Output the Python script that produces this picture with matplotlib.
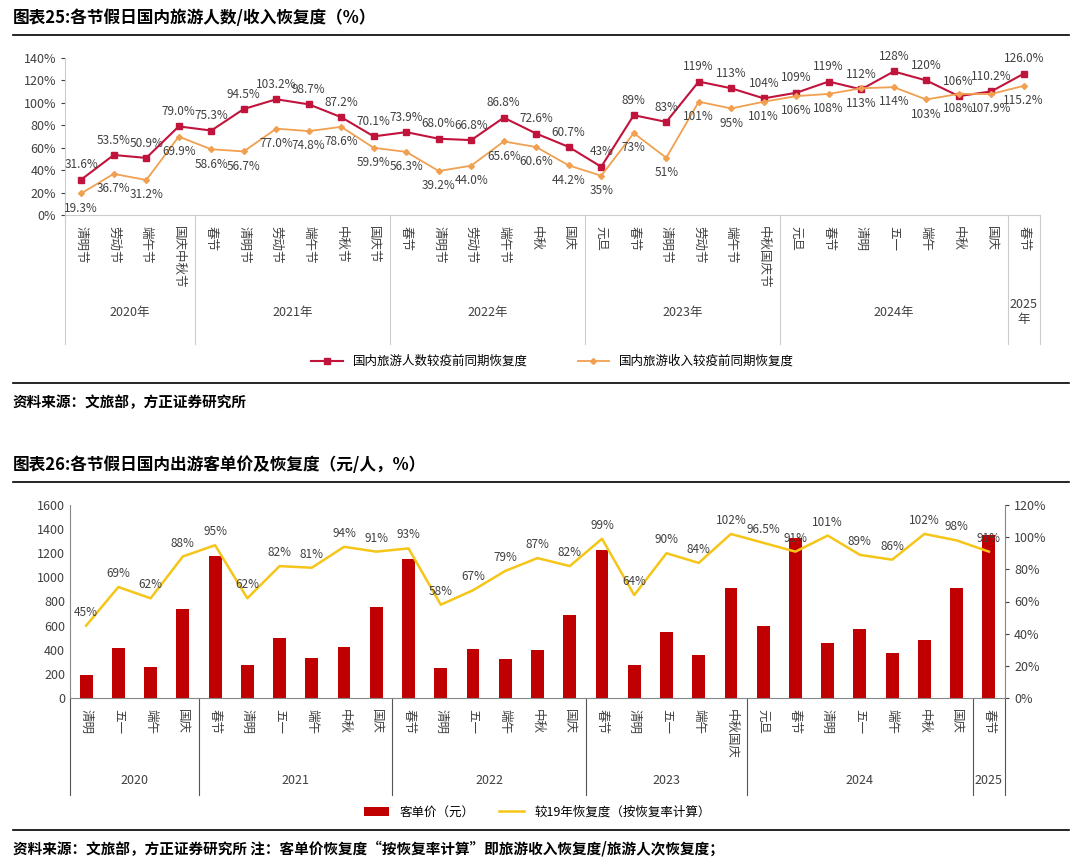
import matplotlib
matplotlib.use("Agg")
import matplotlib.pyplot as plt
import matplotlib.transforms as mtransforms
from matplotlib.ticker import FuncFormatter

plt.rcParams["font.family"] = "Noto Sans CJK SC"

# ---- chart 25 data ----
top_groups = [("2020年", ["清明节", "劳动节", "端午节", "国庆中秋节"]),
              ("2021年", ["春节", "清明节", "劳动节", "端午节", "中秋节", "国庆节"]),
              ("2022年", ["春节", "清明节", "劳动节", "端午节", "中秋", "国庆"]),
              ("2023年", ["元旦", "春节", "清明节", "劳动节", "端午节", "中秋国庆节"]),
              ("2024年", ["元旦", "春节", "清明", "五一", "端午", "中秋", "国庆"]),
              ("2025\n年", ["春节"])]
people = [31.6, 53.5, 50.9, 79.0, 75.3, 94.5, 103.2, 98.7, 87.2, 70.1,
          73.9, 68.0, 66.8, 86.8, 72.6, 60.7, 43, 89, 83, 119, 113, 104,
          109, 119, 112, 128, 120, 106, 110.2, 126.0]
income = [19.3, 36.7, 31.2, 69.9, 58.6, 56.7, 77.0, 74.8, 78.6, 59.9,
          56.3, 39.2, 44.0, 65.6, 60.6, 44.2, 35, 73, 51, 101, 95, 101,
          106, 108, 113, 114, 103, 108, 107.9, 115.2]
people_lbl = ["31.6%", "53.5%", "50.9%", "79.0%", "75.3%", "94.5%", "103.2%", "98.7%", "87.2%", "70.1%",
              "73.9%", "68.0%", "66.8%", "86.8%", "72.6%", "60.7%", "43%", "89%", "83%", "119%", "113%", "104%",
              "109%", "119%", "112%", "128%", "120%", "106%", "110.2%", "126.0%"]
income_lbl = ["19.3%", "36.7%", "31.2%", "69.9%", "58.6%", "56.7%", "77.0%", "74.8%", "78.6%", "59.9%",
              "56.3%", "39.2%", "44.0%", "65.6%", "60.6%", "44.2%", "35%", "73%", "51%", "101%", "95%", "101%",
              "106%", "108%", "113%", "114%", "103%", "108%", "107.9%", "115.2%"]

# ---- chart 26 data ----
bot_groups = [("2020", ["清明", "五一", "端午", "国庆"]),
              ("2021", ["春节", "清明", "五一", "端午", "中秋", "国庆"]),
              ("2022", ["春节", "清明", "五一", "端午", "中秋", "国庆"]),
              ("2023", ["春节", "清明", "五一", "端午", "中秋国庆"]),
              ("2024", ["元旦", "春节", "清明", "五一", "端午", "中秋", "国庆"]),
              ("2025", ["春节"])]
price = [190, 415, 255, 735, 1175, 270, 495, 330, 425, 755,
         1155, 250, 405, 325, 395, 685, 1225, 275, 545, 355, 915,
         600, 1330, 455, 570, 370, 480, 915, 1355]
recovery = [45, 69, 62, 88, 95, 62, 82, 81, 94, 91,
            93, 58, 67, 79, 87, 82, 99, 64, 90, 84, 102,
            96.5, 91, 101, 89, 86, 102, 98, 91]
recovery_lbl = ["45%", "69%", "62%", "88%", "95%", "62%", "82%", "81%", "94%", "91%",
                "93%", "58%", "67%", "79%", "87%", "82%", "99%", "64%", "90%", "84%", "102%",
                "96.5%", "91%", "101%", "89%", "86%", "102%", "98%", "91%"]

RED = "#c00000"
DRED = "#c0143c"
ORANGE = "#f0a050"
YELLOW = "#f5c518"
GRID = "#cccccc"
TXT = "#404040"

fig = plt.figure(figsize=(10.8, 8.64), dpi=100)


def fy(px):
    return 1 - px / 864.0


def group_axis(ax, groups, year_y, vert_lines_to, line_color):
    n = 0
    trans = mtransforms.blended_transform_factory(ax.transData, ax.transAxes)
    bounds = [-0.5]
    for name, cats in groups:
        mid = n + (len(cats) - 1) / 2
        ax.text(mid, year_y, name, transform=trans, ha="center", va="center",
                fontsize=9, color=TXT, clip_on=False)
        n += len(cats)
        bounds.append(n - 0.5)
    for b in bounds:
        ax.plot([b, b], [0, vert_lines_to], transform=trans, color=line_color, lw=0.8, clip_on=False)
    labels = [c for _, cats in groups for c in cats]
    ax.set_xticks(range(len(labels)))
    ax.set_xticklabels(labels, rotation=270, fontsize=9, color=TXT, va="top")
    ax.tick_params(axis="x", length=0, pad=8)
    ax.set_xlim(-0.5, len(labels) - 0.5)


# ================= chart 25 =================
fig.text(0.012, fy(18), "图表25:各节假日国内旅游人数/收入恢复度（%）", fontsize=12,
         fontweight="bold", va="center")
fig.add_artist(plt.Line2D([0.012, 0.99], [fy(35), fy(35)], color="black", lw=1.2))

ax1 = fig.add_axes([65 / 1080, fy(215), (1040 - 65) / 1080, (215 - 58) / 864])
x = range(len(people))
ax1.plot(x, people, color=DRED, marker="s", ms=4, lw=1.5, label="国内旅游人数较疫前同期恢复度")
ax1.plot(x, income, color=ORANGE, marker="D", ms=3, lw=1.3, label="国内旅游收入较疫前同期恢复度")
ax1.set_ylim(0, 140)
ax1.set_yticks(range(0, 141, 20))
ax1.yaxis.set_major_formatter(FuncFormatter(lambda v, p: "%d%%" % v))
ax1.tick_params(axis="y", labelsize=9, colors=TXT, length=3)
for s in ["top", "right"]:
    ax1.spines[s].set_visible(False)
ax1.spines["left"].set_color(GRID)
ax1.spines["bottom"].set_color(GRID)
for i in x:
    ax1.annotate(people_lbl[i], (i, people[i]), xytext=(0, 6), textcoords="offset points",
                 ha="center", va="bottom", fontsize=8.5, color=TXT)
    ax1.annotate(income_lbl[i], (i, income[i]), xytext=(0, -6), textcoords="offset points",
                 ha="center", va="top", fontsize=8.5, color=TXT)
group_axis(ax1, top_groups, -0.62, -0.82, GRID)
ax1.legend(loc="upper center", bbox_to_anchor=(0.5, -0.82), ncol=2, frameon=False,
           fontsize=9, handlelength=2.5, columnspacing=4)

fig.add_artist(plt.Line2D([0.012, 0.99], [fy(383), fy(383)], color="black", lw=1.2))
fig.text(0.012, fy(402), "资料来源：文旅部，方正证券研究所", fontsize=10.5,
         fontstyle="italic", fontweight="bold", va="center")

# ================= chart 26 =================
fig.text(0.012, fy(465), "图表26:各节假日国内出游客单价及恢复度（元/人，%）", fontsize=12,
         fontweight="bold", va="center")
fig.add_artist(plt.Line2D([0.012, 0.99], [fy(482), fy(482)], color="black", lw=1.2))

ax2 = fig.add_axes([70 / 1080, fy(698), (1005 - 70) / 1080, (698 - 505) / 864])
x2 = range(len(price))
ax2.bar(x2, price, width=0.4, color=RED, label="客单价（元）")
ax2.set_ylim(0, 1600)
ax2.set_yticks(range(0, 1601, 200))
ax2.tick_params(axis="y", labelsize=9, colors=TXT, length=0)
for s in ["top", "right"]:
    ax2.spines[s].set_visible(False)
ax2.spines["left"].set_color("#888888")
ax2.spines["bottom"].set_color("#888888")

ax3 = ax2.twinx()
ax3.plot(x2, recovery, color=YELLOW, lw=1.8, label="较19年恢复度（按恢复率计算）")
ax3.set_ylim(0, 120)
ax3.set_yticks(range(0, 121, 20))
ax3.yaxis.set_major_formatter(FuncFormatter(lambda v, p: "%d%%" % v))
ax3.tick_params(axis="y", labelsize=9, colors=TXT, length=3)
for s in ["top", "left", "bottom"]:
    ax3.spines[s].set_visible(False)
ax3.spines["right"].set_color("#888888")
for i in x2:
    ax3.annotate(recovery_lbl[i], (i, recovery[i]), xytext=(0, 5), textcoords="offset points",
                 ha="center", va="bottom", fontsize=8.5, color=TXT)
group_axis(ax2, bot_groups, -0.43, -0.5, "#555555")

h1, l1 = ax2.get_legend_handles_labels()
h2, l2 = ax3.get_legend_handles_labels()
ax2.legend(h1 + h2, l1 + l2, loc="upper center", bbox_to_anchor=(0.5, -0.5), ncol=2,
           frameon=False, fontsize=9, handlelength=2, columnspacing=2)

fig.add_artist(plt.Line2D([0.012, 0.99], [fy(830), fy(830)], color="black", lw=1.2))
fig.text(0.012, fy(848), "资料来源：文旅部，方正证券研究所 注：客单价恢复度“按恢复率计算”即旅游收入恢复度/旅游人次恢复度；",
         fontsize=10.5, fontstyle="italic", fontweight="bold", va="center")

fig.savefig("out.png", dpi=100)
